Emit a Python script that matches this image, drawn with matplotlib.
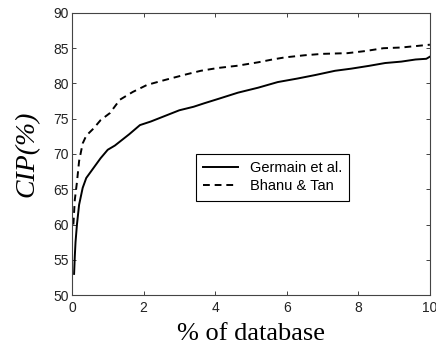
import matplotlib
matplotlib.use('Agg')
import matplotlib.pyplot as plt

germain_x = [0.06, 0.08, 0.10, 0.14, 0.20, 0.30, 0.40, 0.50, 0.60, 0.80, 1.00, 1.20, 1.40,
             1.60, 1.90, 2.20, 2.65, 3.00, 3.40, 3.70, 4.08, 4.64, 5.20, 5.75, 6.30,
             6.80, 7.35, 7.80, 8.30, 8.75, 9.20, 9.60, 9.90, 10.0]
germain_y = [53.0, 55.5, 57.5, 60.0, 62.8, 65.2, 66.6, 67.3, 68.0, 69.4, 70.6, 71.2, 72.0,
             72.8, 74.1, 74.6, 75.5, 76.2, 76.7, 77.2, 77.8, 78.7, 79.4, 80.2, 80.7,
             81.2, 81.8, 82.1, 82.5, 82.9, 83.1, 83.4, 83.5, 83.8]

bhanu_x = [0.04, 0.08, 0.14, 0.20, 0.30, 0.40, 0.60, 0.80, 1.06, 1.34, 1.70, 2.10, 2.60,
           3.20, 3.60, 4.08, 4.60, 5.20, 5.60, 5.95, 6.50, 7.00, 7.70, 8.20, 8.70,
           9.20, 9.60, 10.0]
bhanu_y = [60.0, 63.5, 66.0, 69.0, 71.5, 72.6, 73.6, 74.8, 75.8, 77.7, 78.8, 79.8, 80.5,
           81.3, 81.8, 82.2, 82.5, 83.0, 83.4, 83.7, 84.0, 84.2, 84.3, 84.6, 85.0,
           85.1, 85.3, 85.5]

xticks = [0, 2, 4, 6, 8, 10]
yticks = [50, 55, 60, 65, 70, 75, 80, 85, 90]

fig = plt.figure(figsize=(4.36, 3.5), dpi=100)
ax = fig.add_axes([0.165, 0.157, 0.821, 0.806])

ax.plot(germain_x, germain_y, color='black', lw=1.4, label='Germain et al.')
ax.plot(bhanu_x, bhanu_y, color='black', lw=1.4, ls=(0, (3.5, 2.5)), label='Bhanu & Tan')

ax.set_xlim(0, 10)
ax.set_ylim(50, 90)
ax.set_xticks(xticks)
ax.set_yticks(yticks)
ax.tick_params(direction='in', top=True, right=True, length=3, width=0.6,
               labelsize=10, colors='#222222')
ax.tick_params(axis='x', pad=4)
ax.tick_params(axis='y', pad=2)
for lab in ax.get_xticklabels() + ax.get_yticklabels():
    lab.set_family('Liberation Sans')
for sp in ax.spines.values():
    sp.set_linewidth(0.8)
    sp.set_color('#444444')

ax.set_xlabel('% of database', family='Liberation Serif', fontsize=19, labelpad=6)
ax.set_ylabel('CIP(%)', family='Liberation Serif', style='italic', fontsize=20, labelpad=10)

leg = ax.legend(loc='center', bbox_to_anchor=(0.56, 0.418), fancybox=False,
                edgecolor='black', framealpha=1, prop={'family': 'Liberation Sans', 'size': 10.5},
                handlelength=2.4, borderpad=0.5, labelspacing=0.3)
leg.get_frame().set_linewidth(0.8)

fig.savefig('out.png', dpi=100)
